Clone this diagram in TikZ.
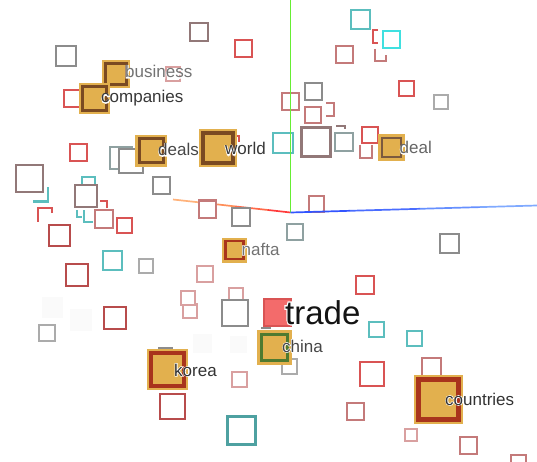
\documentclass[tikz,border=0pt]{standalone}
\usepackage{fontspec}
\setmainfont{Liberation Sans}
\newfontfamily\halofont[FakeBold=8]{Liberation Sans}
\newcommand\halo[1]{\rlap{\halofont\color{white}#1}#1}
\definecolor{cRed}{HTML}{D95454}
\definecolor{cDkRed}{HTML}{B84C4C}
\definecolor{cRosy}{HTML}{C47A7A}
\definecolor{cPink}{HTML}{D9A0A0}
\definecolor{cBrown}{HTML}{927878}
\definecolor{cGray}{HTML}{8C8C8C}
\definecolor{cSilver}{HTML}{ABABAB}
\definecolor{cSlate}{HTML}{8FA1A1}
\definecolor{cTeal}{HTML}{5CBEBE}
\definecolor{cCyan}{HTML}{40E0E0}
\definecolor{cGold}{HTML}{E2B04E}
\definecolor{cCoreBr}{HTML}{7A4A22}
\definecolor{cCoreRd}{HTML}{A8341C}
\definecolor{cCoreGn}{HTML}{4F7A30}
\definecolor{cTrade}{HTML}{F36B6B}
\definecolor{cFaint}{HTML}{FAFAFA}

\begin{document}
\begin{tikzpicture}[x=1pt, y=-1pt,
    sq/.style={draw, fill=white, line width=2pt, inner sep=0pt, minimum size=#1},
    gold/.style={fill=cGold, inner sep=0pt, minimum size=#1},
    core/.style={draw, fill=cGold, line width=3pt, inner sep=0pt, minimum size=#1},
    word/.style={anchor=base west, inner sep=0pt, font=\fontsize{17}{17}\selectfont},
    frag/.style={line width=2pt},
    axis/.style={line width=1.7pt}]
    \useasboundingbox (0,0) rectangle (537,462);
    \clip (0,0) rectangle (537,462);
    \fill[white] (0,0) rectangle (537,462);
    % Axes
    \coordinate (o) at (290.5,212.5);
    \coordinate (xa) at (268,210);
    \coordinate (xb) at (235,206.4);
    \coordinate (xc) at (205,203);
    \coordinate (xe) at (173,199.5);
    \draw[axis, color={rgb,255:red,255;green,59;blue,59}] (o) -- (xa);
    \draw[axis, color={rgb,255:red,255;green,106;blue,74}] (xa) -- (xb);
    \draw[axis, color={rgb,255:red,255;green,143;blue,90}] (xb) -- (xc);
    \draw[axis, color={rgb,255:red,255;green,178;blue,122}] (xc) -- (xe);
    % Faint squares
    \node[gold=21, fill=cFaint] (f1) at (52.5,307.5) {};
    \node[gold=22, fill=cFaint] (f2) at (81,319.5) {};
    \node[gold=19, fill=cFaint] (f3) at (202.5,343) {};
    \node[gold=17, fill=cFaint] (f4) at (238.5,344.5) {};
    % Squares behind
    \node[sq=22, draw=cSlate] (b1) at (121,158) {};
    \node[sq=13, draw=cTeal] (b2) at (88,183.5) {};
    \node[sq=14, draw=cPink] (b3) at (236,295) {};
    \node[sq=14, draw=cPink] (b4) at (190,311) {};
    \node[sq=13, draw=cGray] (b5) at (165,354.5) {};
    \node[sq=19, draw=cRosy] (b6) at (431.5,367.5) {};
    \node[sq=17, draw=cRed] (b7) at (72,99) {};
    % Squares
    \node[sq=17, draw=cRed] (r1) at (243,49) {};
    \node[sq=17, draw=cRed] (r2) at (78,153) {};
    \node[sq=16, draw=cRed] (r3) at (370,135) {};
    \node[sq=18, draw=cRed] (r4) at (365,285) {};
    \node[sq=24, draw=cRed] (r5) at (372,374) {};
    \node[sq=15, draw=cRed] (r6) at (406,89) {};
    \node[sq=15, draw=cRed] (r7) at (124,225) {};
    \node[sq=21, draw=cDkRed] (d1) at (59,235) {};
    \node[sq=22, draw=cDkRed] (d2) at (77,275) {};
    \node[sq=22, draw=cDkRed] (d3) at (115,318) {};
    \node[sq=25, draw=cDkRed] (d4) at (172,406) {};
    \node[sq=17, draw=cRosy] (p1) at (344,55) {};
    \node[sq=17, draw=cRosy] (p2) at (290,102) {};
    \node[sq=16, draw=cRosy] (p3) at (313,115) {};
    \node[sq=17, draw=cRosy] (p4) at (207,209) {};
    \node[sq=15, draw=cRosy] (p5) at (316,204) {};
    \node[sq=17, draw=cRosy] (p6) at (355,411) {};
    \node[sq=17, draw=cRosy] (p7) at (468,445) {};
    \node[sq=18, draw=cRosy] (p8) at (104,219) {};
    \node[sq=15, draw=cRosy] (p9) at (518,462) {};
    \node[sq=16, draw=cPink] (k1) at (205,274) {};
    \node[sq=14, draw=cPink] (k2) at (188,298) {};
    \node[sq=15, draw=cPink] (k3) at (239,379) {};
    \node[sq=12, draw=cPink] (k4) at (411,435) {};
    \node[sq=14, draw=cPink] (k5) at (173,74) {};
    \node[sq=27, draw=cBrown] (n1) at (29,179) {};
    \node[sq=29, draw=cBrown, line width=3pt] (n2) at (316,142) {};
    \node[sq=22, draw=cBrown] (n3) at (86,196) {};
    \node[sq=18, draw=cBrown] (n4) at (199,32) {};
    \node[sq=20, draw=cGray] (g1) at (66,56) {};
    \node[sq=24, draw=cGray] (g2) at (131,161) {};
    \node[sq=17, draw=cGray] (g3) at (161,186) {};
    \node[sq=18, draw=cGray] (g4) at (241,217) {};
    \node[sq=26, draw=cGray] (g5) at (235,313) {};
    \node[sq=17, draw=cGray] (g6) at (313,92) {};
    \node[sq=19, draw=cGray] (g7) at (449,243) {};
    \node[sq=14, draw=cSilver] (s1) at (146,266) {};
    \node[sq=14, draw=cSilver] (s2) at (441,102) {};
    \node[sq=16, draw=cSilver] (s3) at (47,333) {};
    \node[sq=15, draw=cSilver] (s4) at (289,366) {};
    \node[sq=18, draw=cSlate] (s5) at (344,142) {};
    \node[sq=16, draw=cSlate] (s6) at (295,232) {};
    \node[sq=19, draw=cTeal] (t1) at (360,20) {};
    \node[sq=20, draw=cTeal] (t2) at (283,143) {};
    \node[sq=19, draw=cTeal] (t3) at (112,260) {};
    \node[sq=15, draw=cTeal] (t4) at (376,329) {};
    \node[sq=15, draw=cTeal] (t5) at (414,338) {};
    \node[sq=28, draw=cTeal!85!black, line width=3pt] (t6) at (241,430) {};
    \node[sq=17, draw=cCyan] (c1) at (391,40) {};
    % Fragments
    \draw[frag, cTeal] (33,201.5) -- (48,201.5) -- (48,187.5);
    \draw[frag, cTeal] (77,210) -- (77,216.5) -- (81.5,216.5);
    \draw[frag, cTeal] (84,210) -- (84,221.5) -- (93,221.5);
    \draw[frag, cRed] (106.5,208) -- (106.5,201) -- (100,201);
    \draw[frag, cRed] (52,213) -- (52,208) -- (38,208) -- (38,222);
    \draw[frag, cRed] (378,30) -- (373,30) -- (373,43) -- (378,43);
    \draw[frag, cRosy] (375,49) -- (375,61) -- (386,61) -- (386,55);
    \draw[frag, cRosy] (326,103) -- (334,103) -- (334,116) -- (326,116);
    \draw[frag, cBrown] (336,126.5) -- (345,126.5) -- (345,129.5);
    \draw[frag, cRosy] (360,145) -- (360,158.5) -- (372,158.5) -- (372,145);
    \draw[frag, cRed] (234,136) -- (238.5,136) -- (238.5,142);
    \draw[frag, cGray] (261,328) -- (271,328);
    % Words
    \node[sq=27, draw=cRed, fill=cTrade] (trade) at (277,312.5) {};
    \node[gold=28] (business) at (116,74.5) {};
    \node[core=21, draw=cCoreBr] at (business) {};
    \node[gold=31] (companies) at (94.5,98.5) {};
    \node[core=24, draw=cCoreBr] at (companies) {};
    \node[gold=32] (deals) at (151,151) {};
    \node[core=24, draw=cCoreBr] at (deals) {};
    \node[gold=38] (world) at (218,148) {};
    \node[core=30, draw=cCoreBr, line width=3.5pt] at (world) {};
    \node[gold=27] (deal) at (391.5,147.5) {};
    \node[core=19, draw=cCoreBr!70!gray, line width=2.5pt] at (deal) {};
    \node[gold=25] (nafta) at (234.5,250) {};
    \node[core=18, draw=cCoreRd, line width=2.5pt] at (nafta) {};
    \node[gold=35] (china) at (274.5,347) {};
    \node[core=26, draw=cCoreGn] at (china) {};
    \node[gold=41] (korea) at (167.5,369) {};
    \node[core=33, draw=cCoreRd, line width=4pt] at (korea) {};
    \node[gold=49] (countries) at (438.5,399.5) {};
    \node[core=40, draw=cCoreRd, line width=4.5pt] at (countries) {};
    % Axes on top
    \coordinate (ye) at (290.5,0);
    \coordinate (za) at (350,210.8);
    \coordinate (zb) at (420,208.8);
    \coordinate (zc) at (480,207.1);
    \coordinate (ze) at (537,205.5);
    \draw[axis, color={rgb,255:red,102;green,238;blue,51}] (o) -- (ye);
    \draw[axis, color={rgb,255:red,51;green,85;blue,255}] (o) -- (za);
    \draw[axis, color={rgb,255:red,74;green,109;blue,255}] (za) -- (zb);
    \draw[axis, color={rgb,255:red,102;green,144;blue,255}] (zb) -- (zc);
    \draw[axis, color={rgb,255:red,128;green,170;blue,255}] (zc) -- (ze);
    % Labels
    \node[word, text=black!55] (business-t) at (125,78) {\halo{business}};
    \node[word, text=black!78] (companies-t) at (101,103) {\halo{companies}};
    \node[word, text=black!72] (deals-t) at (158,156) {\halo{deals}};
    \node[word, text=black!78] (world-t) at (225,155) {\halo{world}};
    \node[word, text=black!60] (deal-t) at (399.5,154) {\halo{deal}};
    \node[word, text=black!55] (nafta-t) at (241.5,255) {\halo{nafta}};
    \node[word, text=black!72] (china-t) at (282,352) {\halo{china}};
    \node[word, text=black!80] (korea-t) at (174,376) {\halo{korea}};
    \node[word, text=black!80] (countries-t) at (445,405) {\halo{countries}};
    \node[word, text=black!92, font=\fontsize{33}{33}\selectfont] (trade-t) at (285,324) {\halo{trade}};
\end{tikzpicture}
\end{document}
